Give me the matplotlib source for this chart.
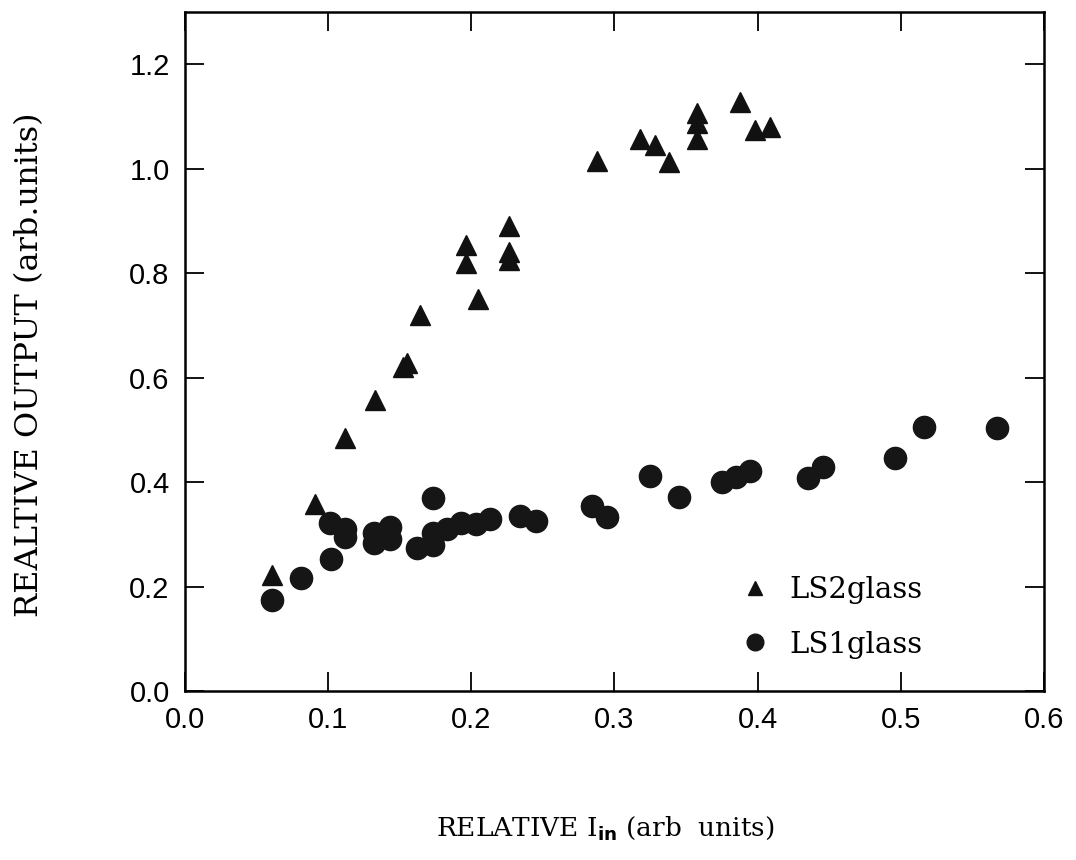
import matplotlib
matplotlib.use("Agg")
import matplotlib.pyplot as plt

# LS2glass (triangles)
ls2_x = [0.061, 0.091, 0.112, 0.133, 0.152, 0.155, 0.164, 0.205, 0.196, 0.196,
         0.226, 0.226, 0.226, 0.288, 0.318, 0.328, 0.338, 0.358, 0.358, 0.358,
         0.388, 0.398, 0.409]
ls2_y = [0.222, 0.358, 0.484, 0.558, 0.620, 0.628, 0.720, 0.750, 0.854, 0.820,
         0.890, 0.841, 0.825, 1.015, 1.056, 1.045, 1.013, 1.107, 1.088, 1.056,
         1.128, 1.074, 1.080]

# LS1glass (circles)
ls1_x = [0.061, 0.081, 0.102, 0.101, 0.112, 0.112, 0.132, 0.132, 0.143, 0.143,
         0.173, 0.162, 0.173, 0.173, 0.183, 0.193, 0.203, 0.213, 0.234, 0.245,
         0.284, 0.295, 0.325, 0.345, 0.375, 0.385, 0.395, 0.435, 0.446, 0.496,
         0.516, 0.567]
ls1_y = [0.174, 0.216, 0.252, 0.322, 0.310, 0.295, 0.302, 0.283, 0.314, 0.292,
         0.369, 0.273, 0.279, 0.302, 0.311, 0.321, 0.320, 0.329, 0.335, 0.326,
         0.354, 0.334, 0.412, 0.372, 0.401, 0.410, 0.421, 0.407, 0.428, 0.447,
         0.506, 0.504]

x_ticks = [0.0, 0.1, 0.2, 0.3, 0.4, 0.5, 0.6]
y_ticks = [0.0, 0.2, 0.4, 0.6, 0.8, 1.0, 1.2]

fig = plt.figure(figsize=(10.76, 8.6), dpi=100)
fig.patch.set_facecolor("white")
ax = fig.add_axes([0.1719, 0.1965, 0.7983, 0.7895])

ax.plot(ls2_x, ls2_y, linestyle="none", marker="^", markersize=14,
        color="#111111", label="LS2glass")
ax.plot(ls1_x, ls1_y, linestyle="none", marker="o", markersize=16,
        color="#161616", label="LS1glass")

ax.set_xlim(0, 0.6)
ax.set_ylim(0, 1.3)
ax.set_xticks(x_ticks)
ax.set_xticklabels([f"{t:.1f}" for t in x_ticks])
ax.set_yticks(y_ticks)
ax.set_yticklabels([f"{t:.1f}" for t in y_ticks])

ax.tick_params(direction="in", length=14, width=1.3, top=True, right=True,
               labelsize=21, pad=11)
for lab in ax.get_xticklabels() + ax.get_yticklabels():
    lab.set_family("Liberation Sans")
for sp in ax.spines.values():
    sp.set_linewidth(1.8)

leg = ax.legend(loc="upper left", bbox_to_anchor=((708 - 185) / 859, (691 - 550) / 679),
                frameon=False, prop={"family": "DejaVu Serif", "size": 21},
                handlelength=1.4, handletextpad=0.5, labelspacing=0.9,
                markerscale=0.75)

fig.text(30 / 1076, 1 - 365 / 860, "REALTIVE OUTPUT (arb.units)", rotation=90,
         ha="center", va="center", family="DejaVu Serif", fontsize=23)
fig.text(605 / 1076, 1 - 828 / 860, r"RELATIVE I$_{\mathbf{in}}$ (arb  units)",
         ha="center", va="center", family="DejaVu Serif", fontsize=19)

fig.savefig("out.png", dpi=100, facecolor="white")
